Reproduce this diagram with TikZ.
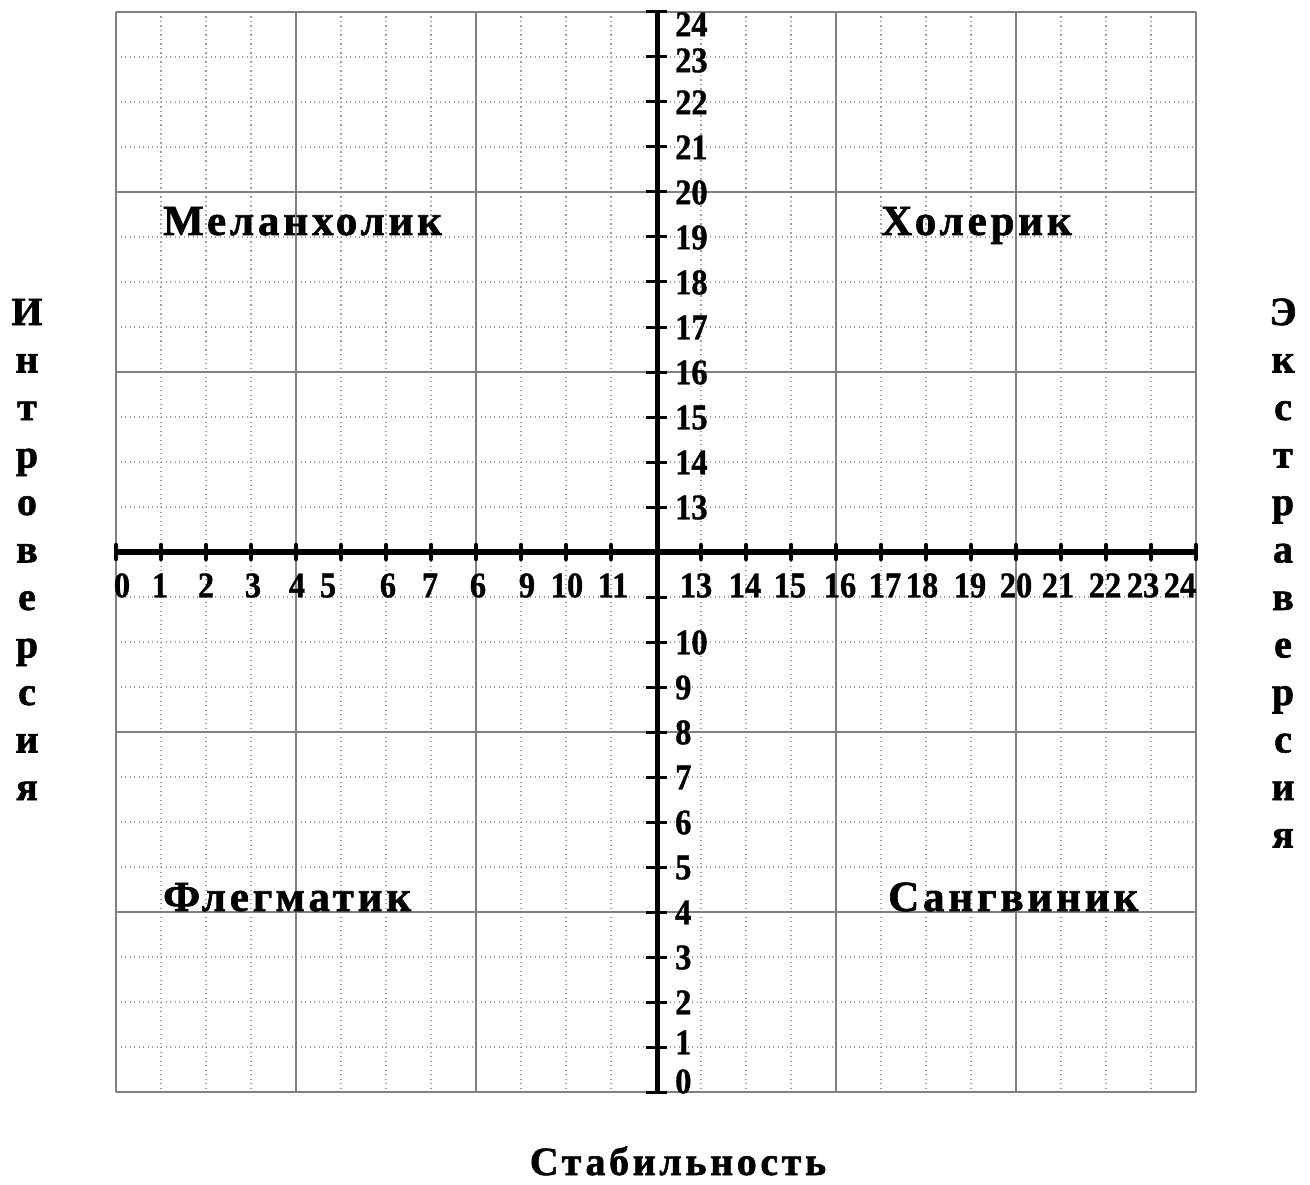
\documentclass[tikz,border=0pt]{standalone}
\usepackage{fontspec}
\setmainfont{Liberation Serif}
\newfontfamily\numfont{Liberation Serif}[FakeStretch=0.9,FakeBold=1]
\newfontfamily\lblfont{Liberation Serif}[LetterSpace=9,FakeBold=1.5]
\newfontfamily\sidefont{Liberation Serif}[FakeBold=1.5]
\begin{document}
\begin{tikzpicture}[x=1pt,y=-1pt,
  minor/.style={draw=black!38,line width=1.1pt,dash pattern=on 1.4pt off 3.1pt},
  major/.style={draw=black!50,line width=1.6pt},
  axisline/.style={draw=black,line width=6pt},
  vaxisline/.style={draw=black,line width=5pt},
  htick/.style={draw=black,line width=4.5pt,line cap=round},
  vtick/.style={draw=black,line width=3pt},
  num/.style={font=\numfont\bfseries\fontsize{36}{36}\selectfont,inner sep=0pt,text height=24.5pt,text depth=0pt},
  quad/.style={font=\lblfont\bfseries\fontsize{43}{43}\selectfont,inner sep=0pt,anchor=base west},
  side/.style={font=\sidefont\bfseries\fontsize{40}{40}\selectfont,inner sep=0pt,anchor=base},
]
\useasboundingbox[fill=white] (0,0) rectangle (1310,1185);
% minor dotted grid
\foreach \i in {1,...,23}{
  \draw[minor] ({116+45*\i},12) -- ({116+45*\i},1092);
  \draw[minor] (116,{12+45*\i}) -- (1196,{12+45*\i});
}
% major grid
\foreach \i in {0,4,...,24}{
  \draw[major] ({116+45*\i},12) -- ({116+45*\i},1092);
  \draw[major] (116,{12+45*\i}) -- (1196,{12+45*\i});
}
% axes
\coordinate (hl) at (116,552);
\coordinate (hr) at (1197,552);
\coordinate (vt) at (657,12);
\coordinate (vb) at (657,1092);
\draw[axisline] (hl) -- (hr);
\draw[vaxisline] (vt) -- (vb);
% horizontal axis ticks
\foreach \k in {0,...,11,13,14,...,24}{
  \draw[htick] ({116+45*\k},545) -- ({116+45*\k},559);
}
% vertical axis ticks
\foreach \k in {0,...,11,13,14,...,24}{
  \draw[vtick] (646,{12+45*\k}) -- (667,{12+45*\k});
}
% horizontal axis labels
\foreach \x/\t [count=\n] in {122/0,160/1,206/2,253/3,297/4,328/5,388/6,430/7,478/6,527/9,567/10,613/11,696/13,745/14,790/15,840/16,885/17,922/18,970/19,1016/20,1058/21,1105/22,1143/23,1180/24}{
  \node[num] (hx\n) at (\x,585) {\t};
}
% vertical axis labels
\node[num,anchor=west] (vy24) at (675,24) {24};
\node[num,anchor=west] (vy23) at (675,60) {23};
\foreach \k in {2,...,11}{
  \pgfmathtruncatemacro{\v}{24-\k}
  \node[num,anchor=west] (vy\v) at (675,{12+45*\k}) {\v};
}
\foreach \k in {14,...,22}{
  \pgfmathtruncatemacro{\v}{24-\k}
  \node[num,anchor=west] (vy\v) at (675,{12+45*\k}) {\v};
}
\node[num,anchor=west] (vy1) at (675,1042) {1};
\node[num,anchor=west] (vy0) at (675,1081) {0};
% quadrant labels
\node[quad] (mel) at (163,235) {Меланхолик};
\node[quad] (hol) at (881,235) {Холерик};
\node[quad] (fle) at (163,911) {Флегматик};
\node[quad] (san) at (888,911) {Сангвиник};
% side labels
\foreach \c [count=\n from 0] in {И,н,т,р,о,в,е,р,с,и,я}{
  \node[side] (in\n) at (27,{325+47.5*\n}) {\c};
}
\foreach \c [count=\n from 0] in {Э,к,с,т,р,а,в,е,р,с,и,я}{
  \node[side] (ex\n) at (1283,{325+47.5*\n}) {\c};
}
% bottom label
\node[font=\lblfont\bfseries\fontsize{40}{40}\selectfont,inner sep=0pt,anchor=base] (stab) at (678,1175) {Стабильность};
\end{tikzpicture}
\end{document}
